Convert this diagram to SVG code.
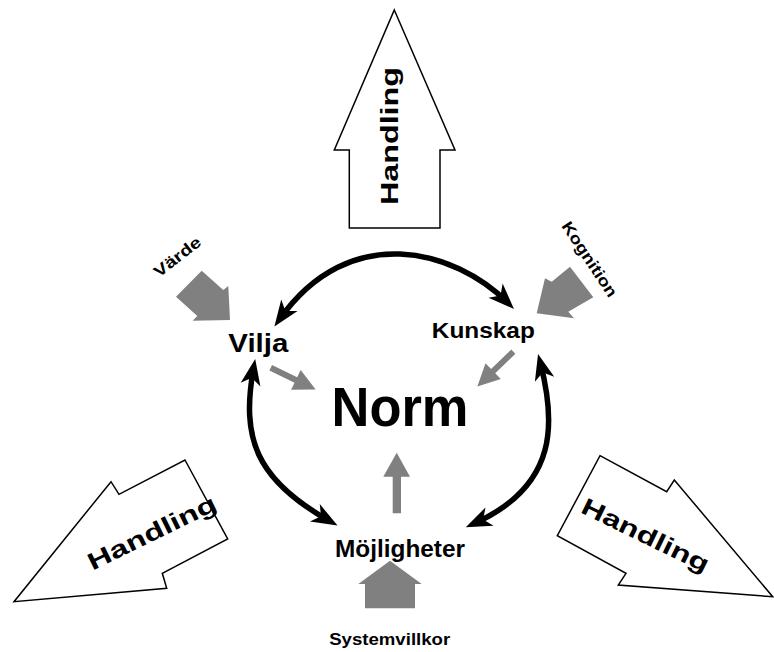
<svg xmlns="http://www.w3.org/2000/svg" width="774" height="652" viewBox="0 0 774 652">
<style>
text{font-family:"Liberation Sans",Arial,sans-serif;font-weight:bold;fill:#000}
.big{fill:#fff;stroke:#000;stroke-width:1.5;stroke-linejoin:miter}
.gray{fill:#808080;stroke:none}
.arc{fill:none;stroke:#000;stroke-width:5.5}
</style>
<defs>
<marker id="ah" viewBox="-22 -13 34 26" refX="0" refY="0" markerWidth="34" markerHeight="26" markerUnits="userSpaceOnUse" orient="auto-start-reverse">
<path d="M9,0 L-17,-10 L-10,0 L-17,10 Z" fill="#000"/>
</marker>
<polygon id="small" points="0,-3 28,-3 28,-11 50,0 28,11 28,3 0,3"/>
</defs>
<rect width="774" height="652" fill="#fff"/>

<g id="handling-top">
<polygon class="big" points="394.3,10 455,150 440,150 440,228 349.3,228 349.3,150 334.3,150"/>
<text transform="translate(398,136) rotate(-90)" text-anchor="middle" font-size="24" textLength="138" lengthAdjust="spacingAndGlyphs">Handling</text>
</g>
<g id="handling-left">
<polygon class="big" points="185,460 227.7,539 162.3,573.3 166.7,588.3 14,601.7 111,481.7 119,494.3"/>
<text transform="translate(155.5,540) rotate(-26)" text-anchor="middle" font-size="24" textLength="140" lengthAdjust="spacingAndGlyphs">Handling</text>
</g>
<g id="handling-right">
<polygon class="big" points="600,455.7 666.7,491.7 674.3,480 772.7,596.7 618.3,585 626,573.3 557.3,535.7"/>
<text transform="translate(642,542.5) rotate(26)" text-anchor="middle" font-size="24" textLength="139" lengthAdjust="spacingAndGlyphs">Handling</text>
</g>

<g id="norm">
<text x="400" y="426" text-anchor="middle" font-size="56" textLength="137" lengthAdjust="spacingAndGlyphs">Norm</text>
</g>
<g id="vilja">
<text x="258.3" y="352" text-anchor="middle" font-size="25" textLength="60" lengthAdjust="spacingAndGlyphs">Vilja</text>
</g>
<g id="kunskap">
<text x="483.3" y="338" text-anchor="middle" font-size="22" textLength="103" lengthAdjust="spacingAndGlyphs">Kunskap</text>
</g>
<g id="mojligheter">
<text x="400" y="556.7" text-anchor="middle" font-size="24" textLength="130" lengthAdjust="spacingAndGlyphs">Möjligheter</text>
</g>
<g id="varde">
<polygon class="gray" points="176,296.7 201.7,270.7 223.3,290 228.3,286 230,320 192.7,320.7 197.3,316"/>
<text transform="translate(159,278) rotate(-38)" font-size="16" textLength="55" lengthAdjust="spacingAndGlyphs">Värde</text>
</g>
<g id="kognition">
<polygon class="gray" points="536.7,313.3 545,278.3 551.7,281.7 570,266.7 593.3,297.3 568.3,311.7 574,318.3"/>
<text transform="translate(561,226) rotate(56.5)" font-size="16" textLength="87" lengthAdjust="spacingAndGlyphs">Kognition</text>
</g>
<g id="systemvillkor">
<polygon class="gray" points="390,560.7 421.7,584 415,584 415,608.3 365,608.3 365,584 358.3,584"/>
<text x="389.7" y="645" text-anchor="middle" font-size="16.5" textLength="121" lengthAdjust="spacingAndGlyphs">Systemvillkor</text>
</g>

<g id="connectors">
<use href="#small" class="gray" transform="translate(270.7,367.7) rotate(26)"/>
<use href="#small" class="gray" transform="translate(513.3,351.7) rotate(136)"/>
<polygon class="gray" points="396.7,452.7 410,476.7 401,476.7 401,513.3 392.7,513.3 392.7,476.7 383.3,476.7"/>
<path class="arc" d="M279.6,319.2 C349.5,220.3 454.8,249.8 507.6,302.6" marker-start="url(#ah)" marker-end="url(#ah)"/>
<path class="arc" d="M253.6,367.9 C240.9,437.7 255.3,479.3 329.7,521.1" marker-start="url(#ah)" marker-end="url(#ah)"/>
<path class="arc" d="M540.3,362.7 C555,419.5 560.2,485.2 474,523.5" marker-start="url(#ah)" marker-end="url(#ah)"/>
</g>
</svg>
